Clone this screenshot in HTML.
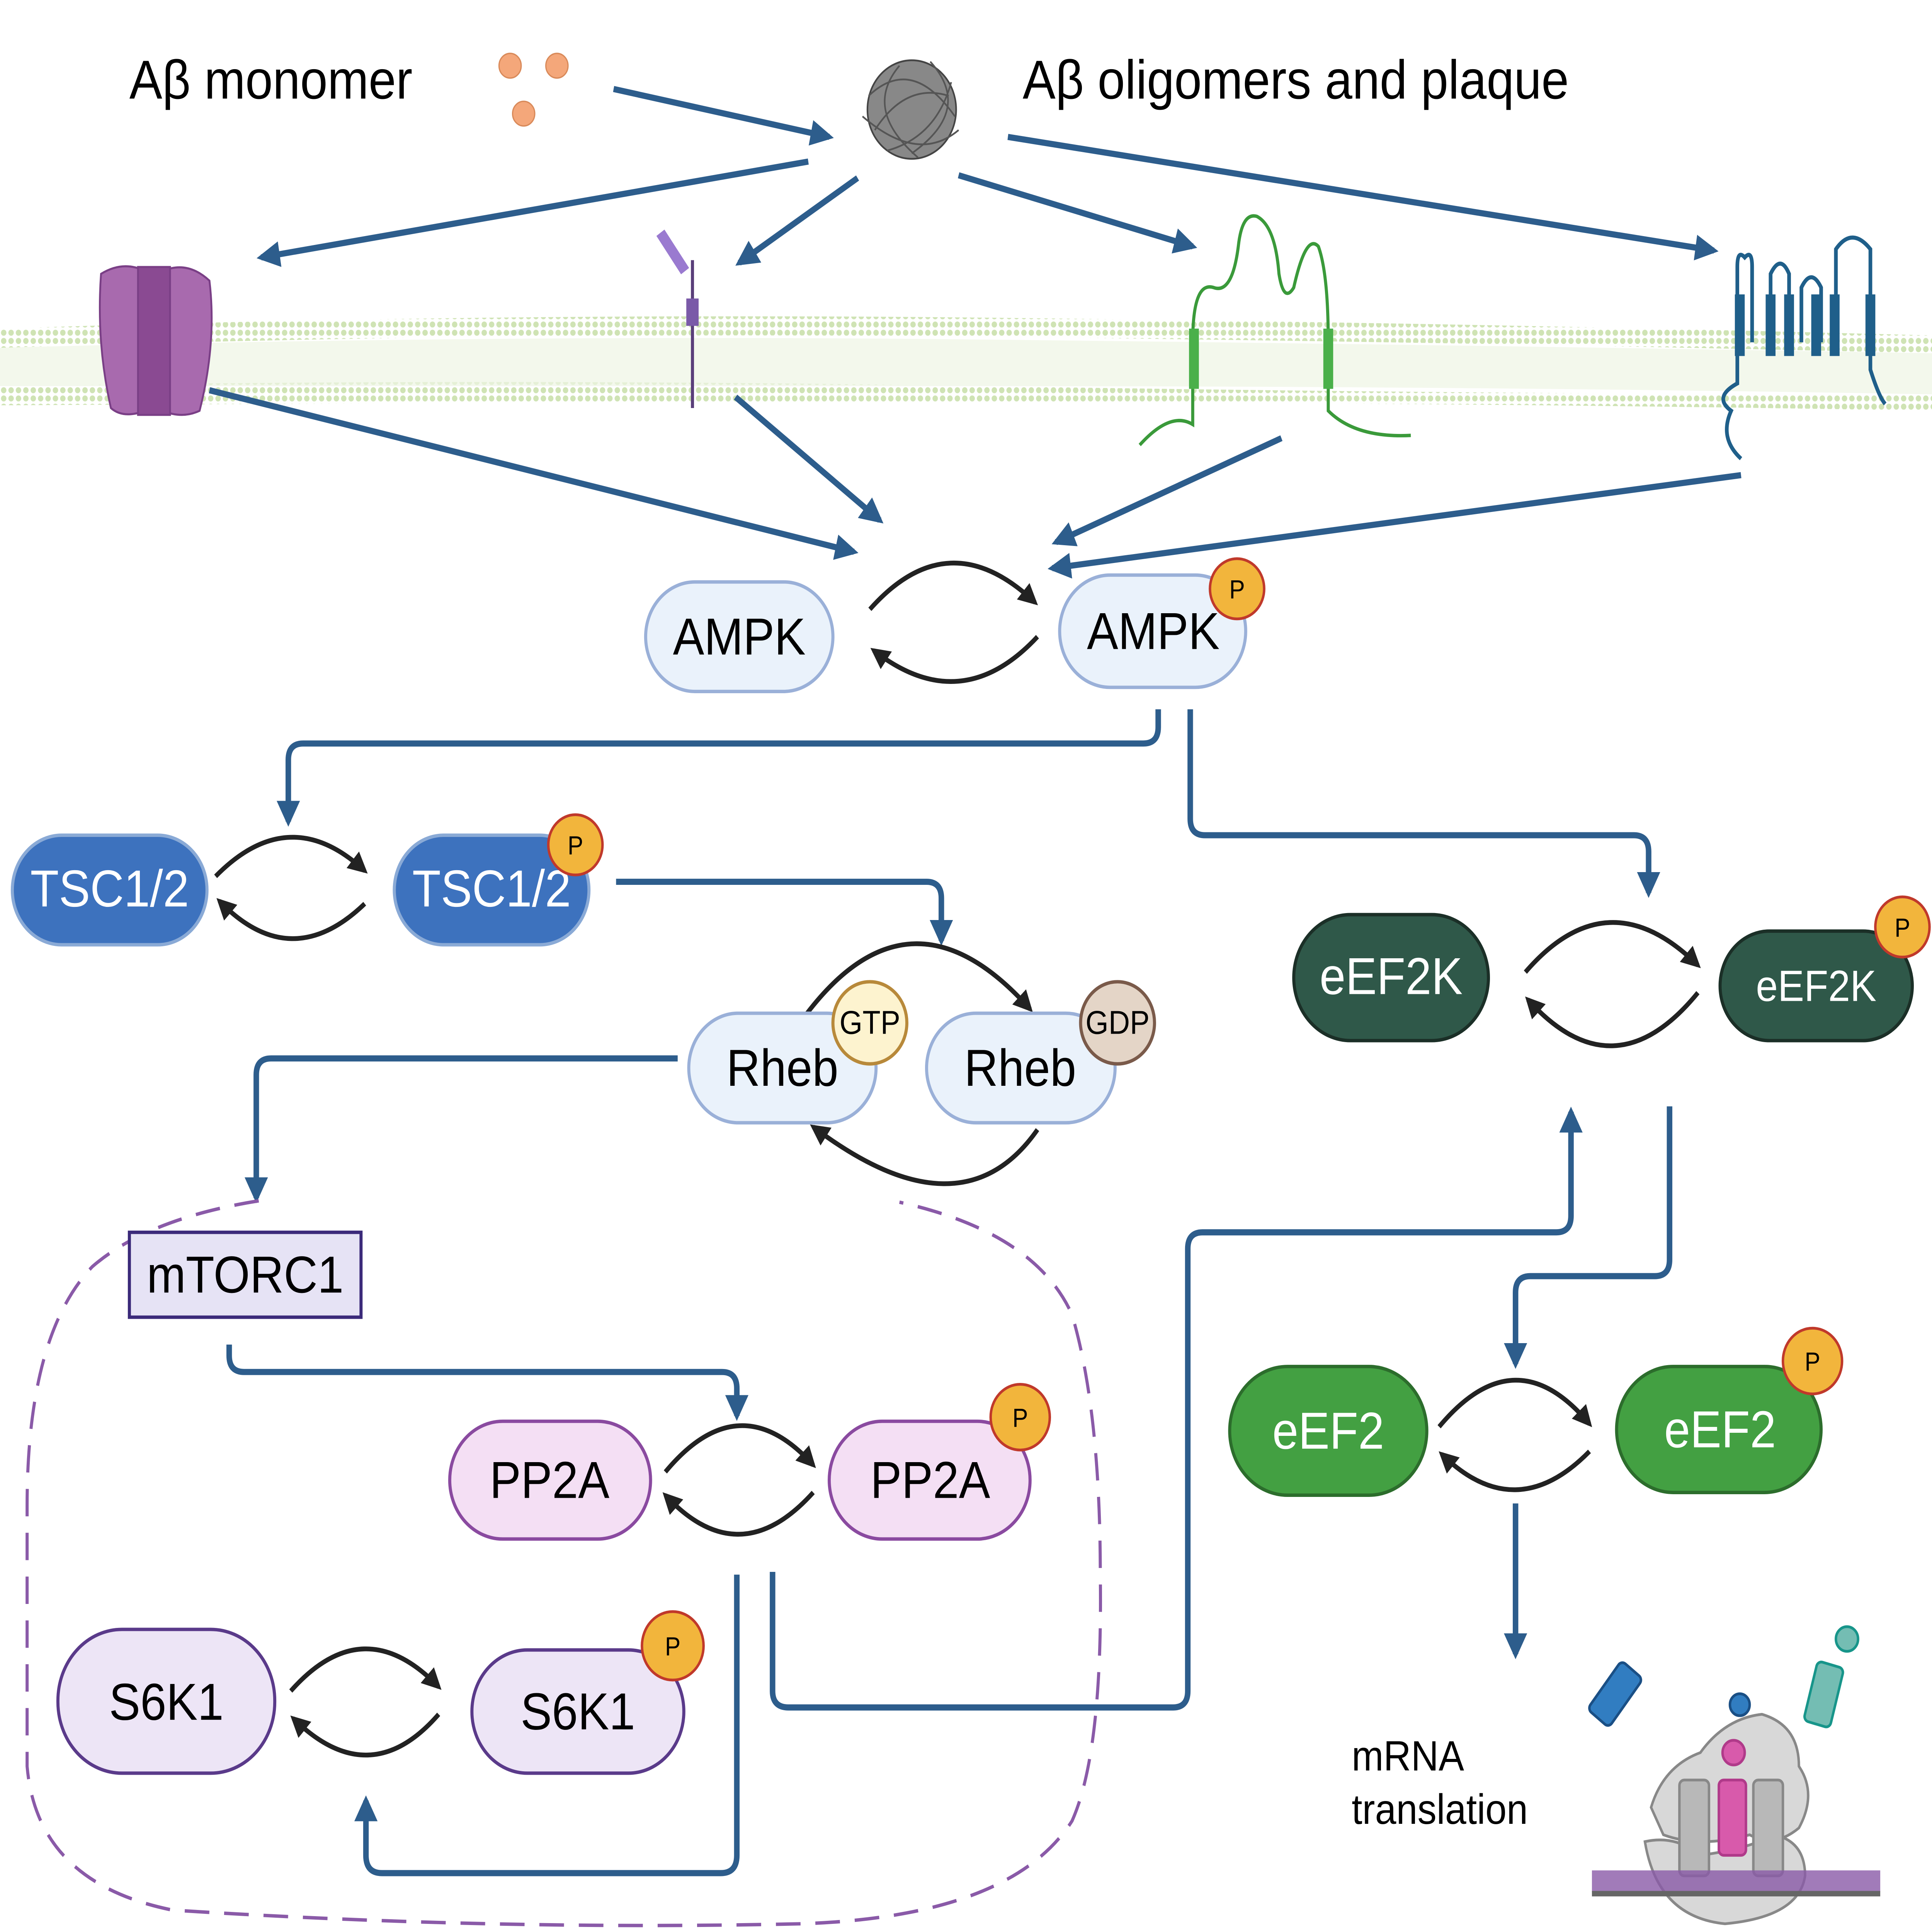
<!DOCTYPE html>
<html><head><meta charset="utf-8"><style>html,body{margin:0;padding:0;background:#fff;width:100%;height:100%;overflow:hidden}svg{display:block;position:absolute;left:0;top:0;width:100vw;height:100vh}</style></head>
<body>
<svg viewBox="0 0 1568 1411" preserveAspectRatio="none" xmlns="http://www.w3.org/2000/svg" font-family="'Liberation Sans', sans-serif">
<defs>
<marker id="ab" viewBox="0 0 10 10" refX="8" refY="5" markerWidth="4.2" markerHeight="4.2" orient="auto" markerUnits="strokeWidth"><path d="M0,0L10,5L0,10z" fill="#2d5d8c"/></marker>
<marker id="ak" viewBox="0 0 10 10" refX="8" refY="5" markerWidth="4.5" markerHeight="4.5" orient="auto" markerUnits="strokeWidth"><path d="M0,0L10,5L0,10z" fill="#222"/></marker>
<pattern id="mem" width="6" height="6" patternUnits="userSpaceOnUse"><circle cx="3" cy="3" r="2.2" fill="#cfe3b4"/></pattern>
</defs>
<path d="M0,240 Q400,228 800,232 T1568,245 L1568,258 Q1200,250 800,246 T0,254z" fill="url(#mem)"/>
<path d="M0,282 Q400,276 800,282 T1568,288 L1568,300 Q1200,294 800,294 T0,296z" fill="url(#mem)"/>
<path d="M0,254 Q400,244 800,248 T1568,258 L1568,288 Q1200,282 800,282 T0,282z" fill="#eef5e4" opacity="0.7"/>

<text x="105" y="72" font-size="40">Aβ monomer</text>
<circle cx="414" cy="48" r="9" fill="#f4a77a" stroke="#d98a5a"/>
<circle cx="452" cy="48" r="9" fill="#f4a77a" stroke="#d98a5a"/>
<circle cx="425" cy="83" r="9" fill="#f4a77a" stroke="#d98a5a"/>
<g stroke="#555" fill="none" stroke-width="1.3">
<circle cx="740" cy="80" r="36" fill="#888" stroke="#444"/>
<path d="M705,70 Q740,40 775,85 M710,95 Q735,60 770,70 M720,110 Q760,100 772,60 M700,85 Q745,120 778,95 M730,48 Q700,80 745,115 M755,45 Q790,80 740,112"/>
</g>
<text x="830" y="72" font-size="40">Aβ oligomers and plaque</text>

<g fill="#a86aae" stroke="#7a3f86" stroke-width="1.5">
<path d="M82,200 Q100,190 118,198 L118,300 Q100,306 90,298 Q78,250 82,200z"/>
<path d="M132,198 Q152,190 170,205 Q176,250 162,300 Q148,306 132,300z"/>
<rect x="112" y="195" width="26" height="108" fill="#8a4a92"/>
</g>
<line x1="562" y1="190" x2="562" y2="298" stroke="#5a3f7a" stroke-width="2.5"/>
<rect x="557" y="218" width="10" height="20" fill="#7a5aa8"/>
<path d="M536,170 L556,198" stroke="#9a7ad0" stroke-width="8"/>
<g fill="none" stroke="#3a9a3a" stroke-width="2.5">
<path d="M925,325 Q950,300 968,310 L968,250 Q968,205 985,210 Q1000,215 1005,180 Q1008,155 1020,158 Q1035,165 1038,200 Q1042,222 1050,210 Q1060,170 1070,180 Q1078,200 1078,250 L1078,300 Q1100,320 1145,318"/>
</g>
<rect x="965" y="240" width="8" height="44" fill="#4ab04a"/>
<rect x="1074" y="240" width="8" height="44" fill="#4ab04a"/>
<g fill="none" stroke="#1f5f8a" stroke-width="3">
<path d="M1413,335 Q1395,320 1405,300 Q1390,290 1410,280 L1410,195 Q1410,182 1416,188 Q1422,182 1422,195 L1422,250 M1437,250 L1437,200 Q1445,185 1452,200 L1452,250 M1462,250 L1462,210 Q1470,195 1478,210 L1478,250 M1490,250 L1490,182 Q1503,165 1518,182 L1518,270 Q1525,290 1530,295"/>
</g>
<g fill="#1f5f8a"><rect x="1408" y="215" width="8" height="45"/><rect x="1433" y="215" width="8" height="45"/><rect x="1448" y="215" width="8" height="45"/><rect x="1470" y="215" width="8" height="45"/><rect x="1485" y="215" width="8" height="45"/><rect x="1514" y="215" width="8" height="45"/></g>

<g fill="none" stroke="#2d5d8c" stroke-width="4.5" marker-end="url(#ab)">
<path d="M498,65 L673,100"/>
<path d="M656,118 L212,188"/>
<path d="M696,130 L600,192"/>
<path d="M778,128 L968,180"/>
<path d="M818,100 L1391,183"/>
<path d="M170,285 L693,403"/>
<path d="M597,290 L714,380"/>
<path d="M1040,320 L857,396"/>
<path d="M1413,347 L854,415"/>
<path d="M940,518 V531 Q940,543 928,543 H246 Q234,543 234,555 V600"/>
<path d="M966,518 V598 Q966,610 978,610 H1326 Q1338,610 1338,622 V652"/>
<path d="M500,644 H752 Q764,644 764,656 V687"/>
<path d="M550,773 H220 Q208,773 208,785 V875"/>
<path d="M186,982 V990 Q186,1002 198,1002 H586 Q598,1002 598,1014 V1034"/>
<path d="M598,1150 V1355 Q598,1368 585,1368 H310 Q297,1368 297,1355 V1315"/>
<path d="M627,1148 V1235 Q627,1247 640,1247 H952 Q964,1247 964,1235 V912 Q964,900 976,900 H1263 Q1275,900 1275,888 V812"/>
<path d="M1355,808 V920 Q1355,932 1343,932 H1242 Q1230,932 1230,944 V996"/>
<path d="M1230,1098 V1208"/>
</g>

<path d="M210,877 Q120,890 75,925 Q22,975 22,1100 L22,1290 Q30,1375 140,1395 Q400,1410 650,1405 Q820,1400 870,1330 Q895,1280 893,1150 Q893,1030 870,960 Q840,900 730,878" fill="none" stroke="#8a5aa8" stroke-width="2.5" stroke-dasharray="20,12"/>

<g fill="none" stroke="#222" stroke-width="3.5" marker-end="url(#ak)">
<path d="M706,445 Q770,380 840,440"/><path d="M842,465 Q780,525 709,475"/>
<path d="M175,640 Q235,585 296,636"/><path d="M296,660 Q236,712 178,658"/>
<path d="M655,740 Q740,640 836,737"/><path d="M842,825 Q780,905 660,823"/>
<path d="M1238,710 Q1305,640 1378,705"/><path d="M1378,725 Q1310,800 1240,730"/>
<path d="M1168,1042 Q1230,975 1290,1040"/><path d="M1290,1060 Q1230,1115 1170,1062"/>
<path d="M540,1075 Q600,1010 660,1070"/><path d="M660,1090 Q600,1150 540,1092"/>
<path d="M236,1235 Q295,1175 356,1232"/><path d="M356,1252 Q300,1310 238,1255"/>
</g>

<g font-size="38" text-anchor="middle">
<rect x="524" y="425" width="152" height="80" rx="40" fill="#eaf2fb" stroke="#9ab0d8" stroke-width="2.5"/><text x="600" y="478">AMPK</text>
<rect x="860" y="420" width="151" height="82" rx="41" fill="#eaf2fb" stroke="#9ab0d8" stroke-width="2.5"/><text x="936" y="474">AMPK</text>
<rect x="10" y="610" width="158" height="80" rx="40" fill="#3d72be" stroke="#8aaad6" stroke-width="2.5"/><text x="89" y="662" fill="#fff">TSC1/2</text>
<rect x="320" y="610" width="158" height="80" rx="40" fill="#3d72be" stroke="#8aaad6" stroke-width="2.5"/><text x="399" y="662" fill="#fff">TSC1/2</text>
<rect x="559" y="740" width="152" height="80" rx="40" fill="#eaf2fb" stroke="#9ab0d8" stroke-width="2.5"/><text x="635" y="793">Rheb</text>
<rect x="752" y="740" width="153" height="80" rx="40" fill="#eaf2fb" stroke="#9ab0d8" stroke-width="2.5"/><text x="828" y="793">Rheb</text>
<rect x="1050" y="668" width="158" height="92" rx="46" fill="#2f5849" stroke="#1b2f27" stroke-width="2.5"/><text x="1129" y="726" fill="#fff">eEF2K</text>
<rect x="1396" y="680" width="156" height="80" rx="40" fill="#2f5849" stroke="#1b2f27" stroke-width="2.5"/><text x="1474" y="731" fill="#fff" font-size="32">eEF2K</text>
<rect x="998" y="998" width="160" height="94" rx="47" fill="#43a042" stroke="#2c6d2c" stroke-width="2.5"/><text x="1078" y="1058" fill="#fff">eEF2</text>
<rect x="1312" y="998" width="166" height="92" rx="46" fill="#43a042" stroke="#2c6d2c" stroke-width="2.5"/><text x="1396" y="1057" fill="#fff">eEF2</text>
<rect x="105" y="900" width="188" height="62" fill="#e6e3f5" stroke="#3b2a7a" stroke-width="2.5"/><text x="199" y="944">mTORC1</text>
<rect x="365" y="1038" width="163" height="86" rx="43" fill="#f4dff4" stroke="#8a4aa0" stroke-width="2.5"/><text x="446" y="1094">PP2A</text>
<rect x="673" y="1038" width="163" height="86" rx="43" fill="#f4dff4" stroke="#8a4aa0" stroke-width="2.5"/><text x="755" y="1094">PP2A</text>
<rect x="47" y="1190" width="176" height="105" rx="52" fill="#ede5f6" stroke="#5a3a8a" stroke-width="2.5"/><text x="135" y="1256">S6K1</text>
<rect x="383" y="1205" width="172" height="90" rx="45" fill="#ede5f6" stroke="#5a3a8a" stroke-width="2.5"/><text x="469" y="1263">S6K1</text>
</g>
<g font-size="19" text-anchor="middle">
<circle cx="1004" cy="430" r="22" fill="#f2b53c" stroke="#c0392b" stroke-width="2"/><text x="1004" y="437">P</text>
<circle cx="467" cy="617" r="22" fill="#f2b53c" stroke="#c0392b" stroke-width="2"/><text x="467" y="624">P</text>
<circle cx="1544" cy="677" r="22" fill="#f2b53c" stroke="#c0392b" stroke-width="2"/><text x="1544" y="684">P</text>
<circle cx="1471" cy="994" r="24" fill="#f2b53c" stroke="#c0392b" stroke-width="2"/><text x="1471" y="1001">P</text>
<circle cx="828" cy="1035" r="24" fill="#f2b53c" stroke="#c0392b" stroke-width="2"/><text x="828" y="1042">P</text>
<circle cx="546" cy="1202" r="25" fill="#f2b53c" stroke="#c0392b" stroke-width="2"/><text x="546" y="1209">P</text>
<circle cx="706" cy="747" r="30" fill="#fdf3cf" stroke="#b8893a" stroke-width="2.5"/><text x="706" y="755" font-size="24">GTP</text>
<circle cx="907" cy="747" r="30" fill="#e4d5c7" stroke="#7a5a4a" stroke-width="2.5"/><text x="907" y="755" font-size="24">GDP</text>
</g>

<text x="1097" y="1293" font-size="31">mRNA</text>
<text x="1097" y="1332" font-size="31">translation</text>

<g stroke="#888" stroke-width="2">
<path d="M1340,1320 Q1350,1290 1380,1280 Q1400,1255 1430,1252 Q1460,1260 1460,1290 Q1475,1310 1460,1335 Q1440,1350 1420,1340 Q1380,1350 1350,1340z" fill="#d8d8d8"/>
<path d="M1335,1345 Q1360,1340 1380,1355 Q1420,1350 1440,1340 Q1465,1345 1465,1370 Q1460,1400 1400,1405 Q1345,1400 1335,1345z" fill="#d8d8d8"/>
<rect x="1363" y="1300" width="24" height="70" rx="4" fill="#b8b8b8"/>
<rect x="1423" y="1300" width="24" height="70" rx="4" fill="#b8b8b8"/>
</g>
<rect x="1395" y="1300" width="22" height="55" rx="4" fill="#d85aab" stroke="#b03a8a" stroke-width="2"/>
<circle cx="1407" cy="1280" r="9" fill="#d85aab" stroke="#b03a8a" stroke-width="2"/>
<circle cx="1412" cy="1245" r="8" fill="#317dc1" stroke="#1a4f85" stroke-width="2"/>
<rect x="1297" y="1222" width="22" height="45" rx="4" transform="rotate(38 1320 1245)" fill="#317dc1" stroke="#1a4f85" stroke-width="2"/>
<rect x="1469" y="1215" width="22" height="45" rx="4" transform="rotate(15 1480 1238)" fill="#74bdb3" stroke="#17958a" stroke-width="2"/>
<circle cx="1499" cy="1197" r="9" fill="#74bdb3" stroke="#17958a" stroke-width="2"/>
<rect x="1292" y="1366" width="234" height="16" fill="#8a5aa8" opacity="0.8"/>
<rect x="1292" y="1381" width="234" height="4" fill="#666"/>
</svg>
</body></html>
